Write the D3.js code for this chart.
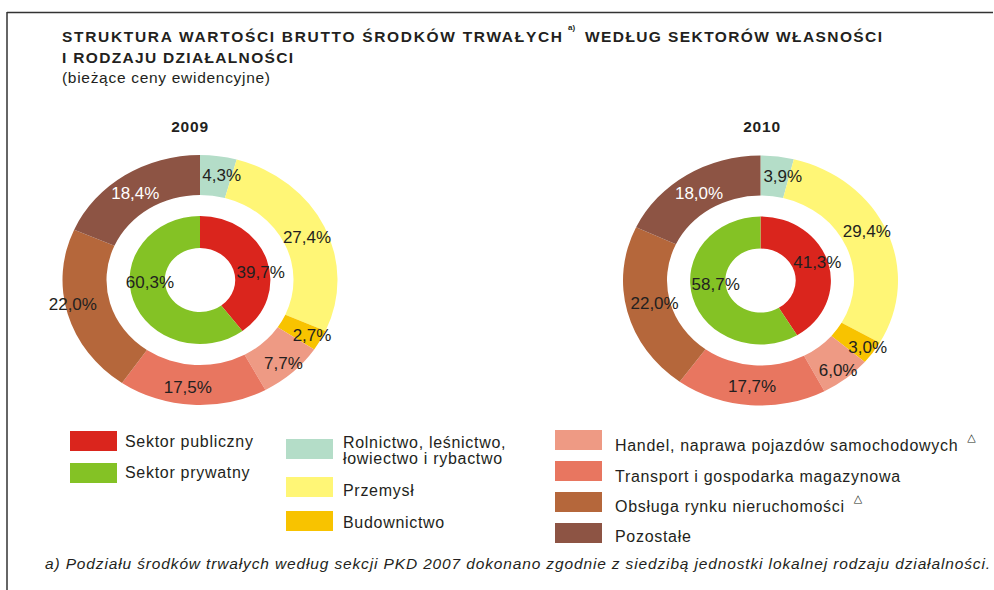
<!DOCTYPE html>
<html><head><meta charset="utf-8">
<script src="https://cdn.jsdelivr.net/npm/d3@7"></script>
<style>
body{margin:0;background:#fff}
svg{display:block}
text{font-family:"Liberation Sans",Arial,Helvetica,sans-serif;fill:#231f20}
</style>
</head><body>
<svg id="c" width="994" height="590"></svg>
<script>
// ---------- data ----------
const years = ["2009", "2010"];
const ownership = ["Sektor publiczny", "Sektor prywatny"];
const ownership2009 = [39.7, 60.3];
const ownership2010 = [41.3, 58.7];
const activities = [
  ["Rolnictwo, leśnictwo,", "łowiectwo i rybactwo"],
  ["Przemysł"],
  ["Budownictwo"],
  ["Handel, naprawa pojazdów samochodowych"],
  ["Transport i gospodarka magazynowa"],
  ["Obsługa rynku nieruchomości"],
  ["Pozostałe"]
];
const activityMark = [false, false, false, true, false, true, false];
const activity2009 = [4.3, 27.4, 2.7, 7.7, 17.5, 22.0, 18.4];
const activity2010 = [3.9, 29.4, 3.0, 6.0, 17.7, 22.0, 18.0];

// ---------- styles ----------
const ownershipColors = ["#da251d", "#84c225"];
const activityColors = ["#b4ddc8", "#fff676", "#f8c300", "#ee9a84", "#e87660", "#b5673b", "#8d5444"];
const activityLabelColors = ["#231f20", "#231f20", "#231f20", "#231f20", "#231f20", "#231f20", "#ffffff"];

// label nudges (layout only)
const nudgeOuter = [
  [[6, 0], [1.5, 2], [10, 4], [5, 4], [-6, 1], [-15, -5], [-1, 2]],
  [[8, 1], [-1, -8], [12, 5], [5, 6], [0, 0], [7, -4], [1, 2]]
];
const nudgeInner = [
  [[10.6, 7], [0, -13.6]],
  [[6, -6], [6, -9.5]]
];

const svg = d3.select("#c");
const fmt = v => d3.format(".1f")(v).replace(".", ",") + "%";

// frame lines
svg.append("line").attr("x1", 7).attr("x2", 993).attr("y1", 12.5).attr("y2", 12.5)
  .attr("stroke", "#333").attr("stroke-width", 1.5);
svg.append("line").attr("x1", 7).attr("x2", 7).attr("y1", 12).attr("y2", 590)
  .attr("stroke", "#333").attr("stroke-width", 1.5);

// title
svg.append("text").attr("x", 62).attr("y", 42).attr("font-size", 15.5).attr("font-weight", "bold")
  .attr("textLength", 500).attr("lengthAdjust", "spacing")
  .text("STRUKTURA WARTOŚCI BRUTTO ŚRODKÓW TRWAŁYCH");
svg.append("text").attr("x", 568).attr("y", 30).attr("font-size", 8).attr("font-weight", "bold").text("a)");
svg.append("text").attr("x", 585).attr("y", 42).attr("font-size", 15.5).attr("font-weight", "bold")
  .attr("textLength", 297).attr("lengthAdjust", "spacing")
  .text("WEDŁUG SEKTORÓW WŁASNOŚCI");
svg.append("text").attr("x", 62).attr("y", 63).attr("font-size", 15.5).attr("font-weight", "bold")
  .attr("textLength", 231).attr("lengthAdjust", "spacing")
  .text("I RODZAJU DZIAŁALNOŚCI");
svg.append("text").attr("x", 62).attr("y", 83).attr("font-size", 15.5)
  .attr("textLength", 208).attr("lengthAdjust", "spacing")
  .text("(bieżące ceny ewidencyjne)");

// donuts
const centers = [[200, 280], [760.5, 280.5]];
const yearLabelX = [190, 762];
const sx = 1.1;
const pie = d3.pie().sort(null).value(d => d);
const outerArc = d3.arc().innerRadius(85).outerRadius(125);
const innerArc = d3.arc().innerRadius(32).outerRadius(64);
const outerLab = d3.arc().innerRadius(106).outerRadius(106);
const innerLab = d3.arc().innerRadius(48).outerRadius(48);

const own = [ownership2009, ownership2010];
const act = [activity2009, activity2010];

years.forEach((yr, i) => {
  const [cx, cy] = centers[i];
  svg.append("text").attr("x", yearLabelX[i]).attr("y", 132).attr("text-anchor", "middle")
    .attr("font-size", 15.5).attr("font-weight", "bold").attr("letter-spacing", 0.8).text(yr);

  const g = svg.append("g").attr("transform", `translate(${cx},${cy})`);
  const gs = g.append("g").attr("transform", `scale(${sx},1)`);
  const po = pie(act[i]);
  const pi = pie(own[i]);
  gs.selectAll("path.o").data(po).join("path").attr("class", "o")
    .attr("d", outerArc).attr("fill", (d, k) => activityColors[k]);
  gs.selectAll("path.i").data(pi).join("path").attr("class", "i")
    .attr("d", innerArc).attr("fill", (d, k) => ownershipColors[k]);

  g.selectAll("text.o").data(po).join("text").attr("class", "o")
    .attr("x", (d, k) => outerLab.centroid(d)[0] * sx + nudgeOuter[i][k][0])
    .attr("y", (d, k) => outerLab.centroid(d)[1] + nudgeOuter[i][k][1])
    .attr("dy", "0.36em").attr("text-anchor", "middle").attr("font-size", 17)
    .style("fill", (d, k) => activityLabelColors[k])
    .text(d => fmt(d.data));
  g.selectAll("text.i").data(pi).join("text").attr("class", "i")
    .attr("x", (d, k) => innerLab.centroid(d)[0] * sx + nudgeInner[i][k][0])
    .attr("y", (d, k) => innerLab.centroid(d)[1] + nudgeInner[i][k][1])
    .attr("dy", "0.36em").attr("text-anchor", "middle").attr("font-size", 17)
    .text(d => fmt(d.data));
});

// legend
const legendItems = [];
ownership.forEach((n, k) => legendItems.push({ lines: [n], color: ownershipColors[k], mark: false }));
activities.forEach((n, k) => legendItems.push({ lines: n, color: activityColors[k], mark: activityMark[k] }));
const legendLayout = [
  { sx: 70, tx: 125, top: 431, base: 447 },
  { sx: 70, tx: 125, top: 463, base: 478 },
  { sx: 286, tx: 343, top: 439, base: 447.5 },
  { sx: 286, tx: 343, top: 477, base: 496 },
  { sx: 286, tx: 343, top: 511, base: 528 },
  { sx: 555, tx: 615, top: 430, base: 450.5 },
  { sx: 555, tx: 615, top: 461, base: 481.5 },
  { sx: 555, tx: 615, top: 492, base: 511.5 },
  { sx: 555, tx: 615, top: 523, base: 541.5 }
];
legendItems.forEach((it, k) => {
  const L = legendLayout[k];
  svg.append("rect").attr("x", L.sx).attr("y", L.top).attr("width", 47).attr("height", 20).attr("fill", it.color);
  const t = svg.append("text").attr("x", L.tx).attr("y", L.base).attr("font-size", 16).attr("letter-spacing", 0.7);
  it.lines.forEach((ln, j) => t.append("tspan").attr("x", L.tx).attr("dy", j === 0 ? 0 : 16).text(ln));
  if (it.mark) {
    const w = t.node().getBBox().width;
    svg.append("text").attr("x", L.tx + w + 9).attr("y", L.base - 10).attr("font-size", 11)
      .style("font-family", "DejaVu Sans").text("△");
  }
});

// footnote
svg.append("text").attr("x", 45).attr("y", 569).attr("font-size", 15.5).attr("font-style", "italic")
  .attr("textLength", 945).attr("lengthAdjust", "spacing")
  .text("a) Podziału środków trwałych według sekcji PKD 2007 dokonano zgodnie z siedzibą jednostki lokalnej rodzaju działalności.");
</script>
</body></html>
